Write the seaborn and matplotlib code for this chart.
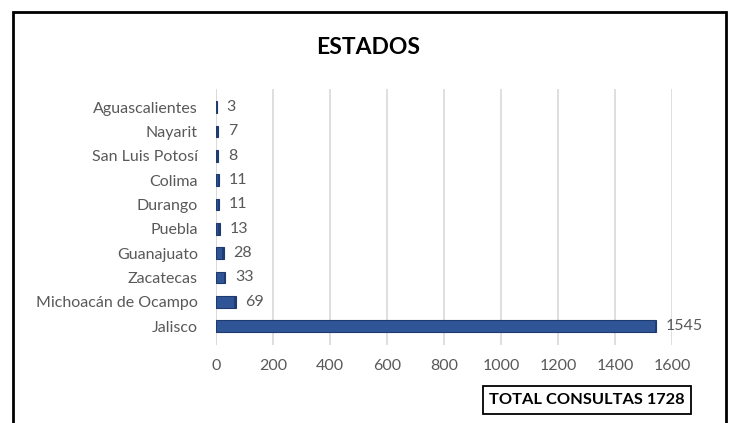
import matplotlib
matplotlib.use("Agg")
import matplotlib.pyplot as plt
from matplotlib.patches import Rectangle
import seaborn as sns
import pandas as pd

# Consultations by state of origin
estados = ["Aguascalientes", "Nayarit", "San Luis Potosí", "Colima", "Durango",
           "Puebla", "Guanajuato", "Zacatecas", "Michoacán de Ocampo", "Jalisco"]
consultas = [3, 7, 8, 11, 11, 13, 28, 33, 69, 1545]
x_ticks = [0, 200, 400, 600, 800, 1000, 1200, 1400, 1600]
titulo = "ESTADOS"
total_texto = "TOTAL CONSULTAS 1728"

sns.set_theme(style="white")
plt.rcParams["font.family"] = ["Lato", "DejaVu Sans"]

GRAY = "#595959"
BAR = "#2F5597"
BAR_EDGE = "#1F3A6E"
FS = 11.5

df = pd.DataFrame({"estado": estados, "consultas": consultas})

W, H = 732, 423
fig = plt.figure(figsize=(W / 100, H / 100), dpi=100)

# plot area in pixel terms
left, right, top, bottom = 216, 672, 89, 345
ax = fig.add_axes([left / W, 1 - bottom / H, (right - left) / W, (bottom - top) / H])

sns.barplot(data=df, y="estado", x="consultas", order=estados, orient="h",
            color=BAR, width=0.48, edgecolor=BAR_EDGE, linewidth=0.8,
            saturation=1, ax=ax, zorder=3)

# darker end cap to give the bars some depth
for p in ax.patches:
    x0, y0 = p.get_x(), p.get_y()
    w, h = p.get_width(), p.get_height()
    cap = min(6, max(w * 0.35, 3))
    ax.add_patch(Rectangle((x0 + w - cap, y0), cap, h, facecolor="#203D74",
                           edgecolor="none", zorder=4))

ax.set_xlim(0, 1600)
ax.set_ylim(len(estados) - 1 + 0.78, -0.74)
ax.set_xticks(x_ticks)
ax.set_xticklabels([str(t) for t in x_ticks])
ax.xaxis.grid(True, color="#D9D9D9", linewidth=1.2, zorder=0)
ax.yaxis.grid(False)
for s in ax.spines.values():
    s.set_visible(False)
ax.axvline(0, color="#D9D9D9", linewidth=1.2, zorder=1)

ax.tick_params(axis="y", length=0, pad=13, labelsize=FS, labelcolor=GRAY)
ax.tick_params(axis="x", length=0, pad=10, labelsize=FS, labelcolor=GRAY)
ax.set_xlabel("")
ax.set_ylabel("")

# value labels
for i, v in enumerate(consultas):
    ax.annotate(str(v), xy=(v, i), xytext=(7, 0), textcoords="offset points",
                va="center", ha="left", fontsize=FS, color=GRAY)

# title
fig.text(368 / W, 1 - 47 / H, titulo, ha="center", va="center",
         fontsize=16.5, fontweight="bold", color="black")

# total box
fig.text(587 / W, 1 - 400 / H, total_texto, ha="center", va="center",
         fontsize=11.8, fontweight="bold", color="black",
         bbox=dict(boxstyle="square,pad=0.4", facecolor="white",
                   edgecolor="black", linewidth=1.3))

# outer chart frame
fig.add_artist(Rectangle((13 / W, -0.05), (726 - 13) / W, 1 - 12 / H + 0.05,
                         transform=fig.transFigure, fill=False,
                         edgecolor="black", linewidth=2, zorder=10))

fig.savefig("out.png", dpi=100)
